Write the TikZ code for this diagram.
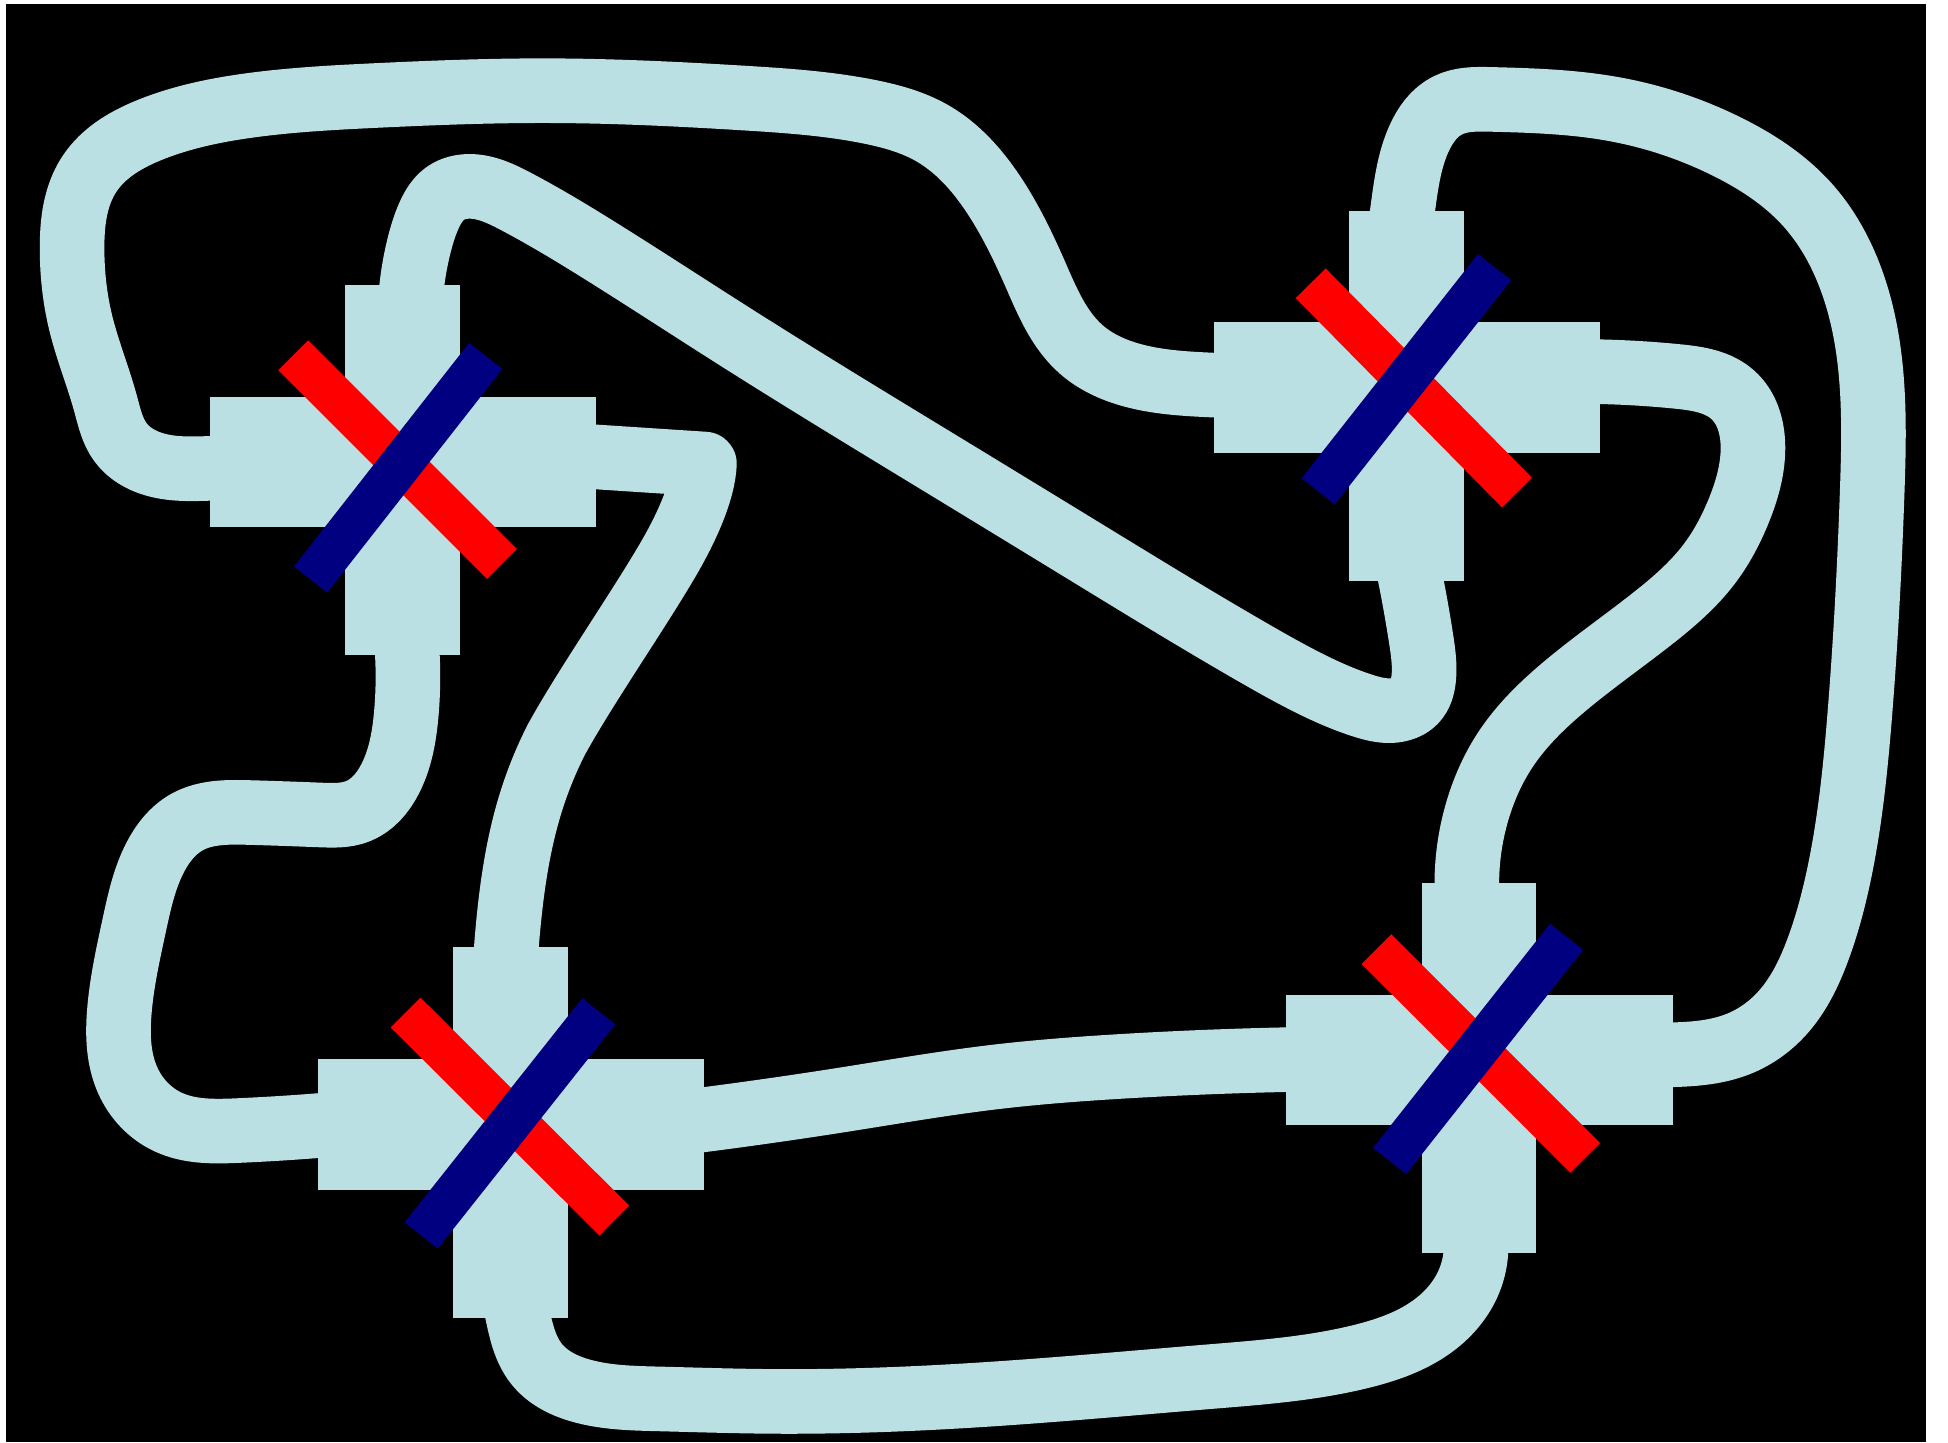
\documentclass[tikz,border=0pt]{standalone}
\usetikzlibrary{hobby}
\definecolor{tubecol}{HTML}{BBE0E3}
\definecolor{navycol}{HTML}{000080}
\definecolor{redcol}{HTML}{FF0000}
\tikzset{
  hbar/.style={fill=tubecol,inner sep=0pt,minimum width=311pt,minimum height=105pt},
  vbar/.style={fill=tubecol,inner sep=0pt,minimum width=92pt,minimum height=298pt},
  tube/.style={draw=tubecol,line width=52pt,line cap=butt,line join=round,use Hobby shortcut},
  plaintube/.style={draw=tubecol,line width=52pt,line cap=butt,line join=round},
  redbar/.style={draw=redcol,line width=34pt,line cap=butt},
  bluebar/.style={draw=navycol,line width=34pt,line cap=butt}
}
% name, x, y of the horizontal bar's centre
\newcommand{\crossbars}[3]{%
  \node[hbar] (#1h) at (#2,#3) {};
  \node[vbar] (#1v) at (#2-0.5,#3+6.5) {};
}
\begin{document}
\begin{tikzpicture}[x=1pt,y=-1pt]
\useasboundingbox (0,0) rectangle (1568,1161);
\fill[white] (0,0) rectangle (1568,1161);
\fill[black] (5,3) rectangle (1550,1161);
\crossbars{a}{324.5}{372}
\crossbars{b}{1132.5}{312}
\crossbars{c}{411.5}{905}
\crossbars{d}{1191}{853}
% ports, a little inside the bars
\coordinate (aW) at (200,376);
\coordinate (aE) at (460,366.5);
\coordinate (aN) at (330,250);
\coordinate (aS) at (326,505);
\coordinate (bW) at (1000,311);
\coordinate (bE) at (1265,299);
\coordinate (bN) at (1126,190);
\coordinate (bS) at (1131,445);
\coordinate (cW) at (280,904);
\coordinate (cE) at (545,904);
\coordinate (cN) at (406,785);
\coordinate (cS) at (413,1040);
\coordinate (dW) at (1060,852.5);
\coordinate (dE) at (1320,849);
\coordinate (dN) at (1182,735);
\coordinate (dS) at (1186,985);
% tubes
\draw[tube] (bW) .. (977,310) .. (915,303) .. (870,281) .. (833,220) .. (800,157) .. (750,107) .. (700,90) .. (600,79) .. (440,73) .. (300,77) .. (200,85) .. (122,104) .. (72,140) .. (58,200) .. (65,260) .. (85,325) .. (97,356) .. (125,374) .. (169,377) .. (aW);
\draw[tube] (aN) .. (338,195) .. (346,172) .. (358,156) .. (378,150) .. (415,162) .. (485,203) .. (590,270) .. (757,373) .. (875,445) .. (1010,526) .. (1050,548) .. (1097,568) .. (1120,572) .. (1140,563) .. (1146,546) .. (1144,515) .. (bS);
\draw[plaintube] (aE) -- (567,373.5) .. controls (566,395) and (553,425) .. (535,455) .. controls (510,497) and (470,555) .. (448,595) .. controls (420,650) and (411,705) .. (cN);
\draw[tube] (aS) .. (327,575) .. (314,627) .. (288,653) .. (258,656) .. (200,654) .. (150,662) .. (125,690) .. (108,745) .. (96,815) .. (103,870) .. (135,903) .. (192,910) .. (cW);
\draw[tube] (cE) .. (680,885) .. (800,867) .. (900,858.5) .. (dW);
\draw[tube] (cS) .. (417,1060) .. (432,1098) .. (470,1120) .. (530,1126) .. (620,1128) .. (800,1122) .. (975,1108) .. (1095,1092) .. (1160,1062) .. (1183,1030) .. (dS);
\draw[tube] (bN) .. (1129,169) .. (1142,112) .. (1165,85) .. (1200,80) .. (1300,88) .. (1390,118) .. (1455,165) .. (1490,225) .. (1507,395) .. (1497,575) .. (1480,705) .. (1463,765) .. (1435,815) .. (1400,840) .. (1346,849) .. (dE);
\draw[tube] (bE) .. (1350,303) .. (1395,318) .. (1411,360) .. (1400,410) .. (1375,455) .. (1330,498) .. (1260,552) .. (1212,603) .. (1190,650) .. (dN);
% crossing bars
\coordinate (ara) at (236,286);  \coordinate (arb) at (404,454);
\coordinate (aba) at (391,286.5);\coordinate (abb) at (250,466.5);
\coordinate (bra) at (1055,228); \coordinate (brb) at (1221,396.5);
\coordinate (bba) at (1203,215); \coordinate (bbb) at (1061,395.5);
\coordinate (cra) at (326.5,815);\coordinate (crb) at (494.5,982.5);
\coordinate (cba) at (482,814);  \coordinate (cbb) at (339,994.5);
\coordinate (dra) at (1108,764); \coordinate (drb) at (1276,932);
\coordinate (dba) at (1261,754); \coordinate (dbb) at (1118.5,934.5);
\foreach \n in {a,b,c,d}{
  \draw[redbar] (\n ra) -- (\n rb);
  \draw[bluebar] (\n ba) -- (\n bb);
}
\end{tikzpicture}
\end{document}
